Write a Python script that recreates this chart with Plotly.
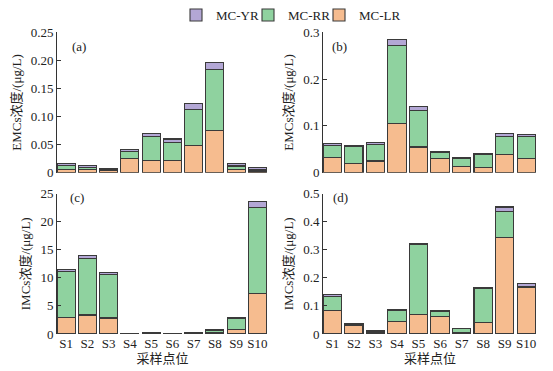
import plotly.graph_objects as go

sites = ["S1", "S2", "S3", "S4", "S5", "S6", "S7", "S8", "S9", "S10"]

# (a) EMCs
a_lr = [0.0065, 0.0065, 0.004, 0.025, 0.0215, 0.021, 0.049, 0.075, 0.0065, 0.003]
a_rr = [0.006, 0.003, 0.0015, 0.012, 0.0425, 0.0335, 0.064, 0.1085, 0.0055, 0.0035]
a_yr = [0.0035, 0.0035, 0.002, 0.0045, 0.006, 0.0055, 0.010, 0.013, 0.0045, 0.003]

# (b) EMCs
b_lr = [0.032, 0.020, 0.025, 0.105, 0.055, 0.030, 0.014, 0.011, 0.039, 0.0305]
b_rr = [0.027, 0.0367, 0.036, 0.1666, 0.0776, 0.0126, 0.0165, 0.028, 0.039, 0.0465]
b_yr = [0.0034, 0.0023, 0.0035, 0.0128, 0.0084, 0.0034, 0.0021, 0.002, 0.005, 0.0046]

# (c) IMCs
c_lr = [2.96, 3.38, 2.84, 0.03, 0.10, 0.03, 0.08, 0.30, 0.80, 7.23]
c_rr = [8.18, 10.07, 7.71, 0.03, 0.15, 0.03, 0.08, 0.37, 1.92, 15.27]
c_yr = [0.41, 0.47, 0.45, 0.02, 0.05, 0.02, 0.04, 0.08, 0.15, 1.0]

# (d) IMCs
d_lr = [0.0845, 0.032, 0.004, 0.043, 0.068, 0.061, 0.006, 0.040, 0.342, 0.165]
d_rr = [0.0475, 0.003, 0.004, 0.040, 0.249, 0.0176, 0.013, 0.121, 0.0925, 0.003]
d_yr = [0.007, 0.003, 0.005, 0.004, 0.006, 0.0034, 0.002, 0.003, 0.0175, 0.011]

names = ["MC-LR", "MC-RR", "MC-YR"]
colors = ["#F6BC8F", "#8FD29F", "#B3A7D5"]
legend_ids = ["legend3", "legend2", "legend"]

panels = [
    (a_lr, a_rr, a_yr, "x", "y"),
    (b_lr, b_rr, b_yr, "x2", "y2"),
    (c_lr, c_rr, c_yr, "x3", "y3"),
    (d_lr, d_rr, d_yr, "x4", "y4"),
]

fig = go.Figure()
for pi, (lr, rr, yr, xa, ya) in enumerate(panels):
    for name, vals, col, lg in zip(names, [lr, rr, yr], colors, legend_ids):
        fig.add_trace(go.Bar(
            x=sites, y=vals, name=name, xaxis=xa, yaxis=ya,
            marker=dict(color=col, line=dict(color="#3a3a3a", width=1.1)),
            showlegend=(pi == 0), legendgroup=name, legend=lg,
        ))

# page body has an 8px margin; work in screen pixels and convert
OFF = 8
W, H = 553 - OFF, 371 - OFF
def px_x(p):
    return (p - OFF) / W
def px_y(p):
    return 1 - (p - OFF) / H

tick_font = dict(family="Liberation Serif", size=13, color="#222")
title_font = dict(family="Liberation Serif, Noto Sans CJK SC", size=13, color="#222")

def yaxis(domain_top, domain_bot, anchor, rng, tv, tt, title):
    return dict(
        domain=[px_y(domain_bot), px_y(domain_top)], anchor=anchor,
        range=rng, tickvals=tv, ticktext=tt, showline=True, linecolor="#333",
        linewidth=1, ticks="inside", ticklen=4, tickcolor="#333",
        showgrid=False, zeroline=False, tickfont=tick_font,
        title=dict(text=title, font=title_font, standoff=6),
    )

def xaxis(left, right, anchor, show_labels, title=None):
    d = dict(
        domain=[px_x(left), px_x(right)], anchor=anchor,
        range=[-0.43, 9.5], showline=False, showgrid=False, zeroline=False,
        ticks="", showticklabels=show_labels, tickfont=tick_font,
        type="category",
    )
    if title:
        d["title"] = dict(text=title, font=title_font, standoff=2)
    return d

def legend_at(xp):
    return dict(orientation="h", x=px_x(xp), y=px_y(15), xanchor="left", yanchor="middle",
                font=dict(family="Liberation Serif", size=13, color="#222"),
                itemwidth=30, bgcolor="rgba(0,0,0,0)")

fig.update_layout(
    width=W, height=H,
    margin=dict(l=0, r=0, t=0, b=0, autoexpand=False),
    plot_bgcolor="white", paper_bgcolor="white",
    barmode="stack", bargap=0.15,
    xaxis=xaxis(57, 268, "y", False),
    xaxis2=xaxis(323, 537, "y2", False),
    xaxis3=xaxis(57, 268, "y3", True, "采样点位"),
    xaxis4=xaxis(323, 537, "y4", True, "采样点位"),
    yaxis=yaxis(32.3, 172.7, "x", [0, 0.25],
                [0, 0.05, 0.10, 0.15, 0.20, 0.25],
                ["0", "0.05", "0.10", "0.15", "0.20", "0.25"], "EMCs浓度/(μg/L)"),
    yaxis2=yaxis(32.3, 172.7, "x2", [0, 0.3],
                 [0, 0.1, 0.2, 0.3], ["0", "0.1", "0.2", "0.3"], "EMCs浓度/(μg/L)"),
    yaxis3=yaxis(193.5, 334, "x3", [0, 25],
                 [0, 5, 10, 15, 20, 25], ["0", "5", "10", "15", "20", "25"], "IMCs浓度/(μg/L)"),
    yaxis4=yaxis(193.5, 334, "x4", [0, 0.5],
                 [0, 0.1, 0.2, 0.3, 0.4, 0.5], ["0", "0.1", "0.2", "0.3", "0.4", "0.5"], "IMCs浓度/(μg/L)"),
    legend=legend_at(176),
    legend2=legend_at(248),
    legend3=legend_at(319),
    showlegend=True,
)

for txt, xp, yp in [("(a)", 70, 37), ("(b)", 339, 37), ("(c)", 68, 198), ("(d)", 340, 198)]:
    fig.add_annotation(text=txt, x=px_x(xp), y=px_y(yp), xref="paper", yref="paper",
                       showarrow=False, font=dict(family="Liberation Serif", size=13, color="#222"))

fig.write_html("out.html")
